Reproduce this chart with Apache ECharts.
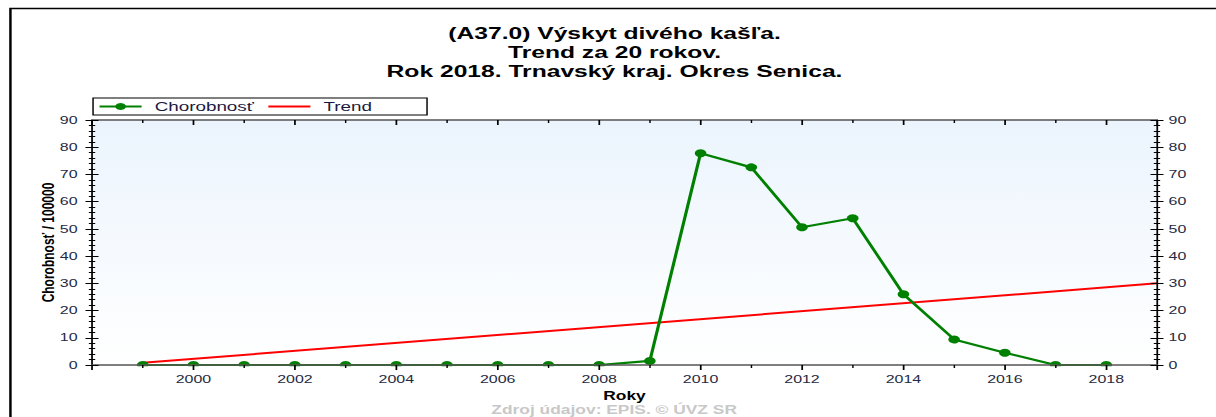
<!DOCTYPE html>
<html>
<head>
<meta charset="utf-8">
<script src="https://cdn.jsdelivr.net/npm/echarts@6/dist/echarts.min.js"></script>
<style>
  html, body { margin: 0; padding: 0; background: #fff; overflow: hidden; }
  /* the source picture is stretched sideways, so draw narrow and stretch */
  #chart { width: 839px; height: 417px; transform: scaleX(1.4493); transform-origin: 0 0; }
</style>
</head>
<body>
<div id="chart"></div>
<script>
// data
const years = [1999, 2000, 2001, 2002, 2003, 2004, 2005, 2006, 2007, 2008, 2009, 2010, 2011, 2012, 2013, 2014, 2015, 2016, 2017, 2018]
const chorobnost = [0, 0, 0, 0, 0, 0, 0, 0, 0, 0, 1.5, 77.8, 72.6, 50.6, 53.9, 26, 9.4, 4.5, 0, 0]
const trendYears = [1999, 2019]
const trendValues = [0.8, 30]
const titleLines = ['(A37.0) Výskyt divého kašľa.', 'Trend za 20 rokov.', 'Rok 2018. Trnavský kraj. Okres Senica.']

const font = '"Liberation Sans", Arial, sans-serif'
const labelColor = '#1f2a44'

const chart = echarts.init(document.getElementById('chart'), null, { renderer: 'svg' })

// y axes: one copy per side for outside ticks, one for inside ticks (gives the "+" look)
const yBase = { type: 'value', min: 0, max: 90, interval: 10, z: 5, splitLine: { show: false } }
const tickOut = { show: true, inside: false, length: 4.5, lineStyle: { color: '#000' } }
const tickIn = { show: true, inside: true, length: 4.5, lineStyle: { color: '#000' } }
const minor = { show: true, splitNumber: 5, length: 2.2, lineStyle: { color: '#000' } }
const yAxes = [
  Object.assign({}, yBase, {
    position: 'left',
    name: 'Chorobnosť / 100000', nameLocation: 'middle', nameRotate: 90, nameGap: 25,
    nameMoveOverlap: false,
    nameTextStyle: { fontFamily: '"Liberation Sans Narrow", ' + font, fontWeight: 'bold', fontSize: 12, color: '#000' },
    axisLine: { show: true, lineStyle: { color: '#000', width: 1.2 } },
    axisTick: tickOut, minorTick: minor,
    axisLabel: { margin: 10, fontFamily: font, fontSize: 11, color: labelColor }
  }),
  Object.assign({}, yBase, {
    position: 'left',
    axisLine: { show: false }, axisTick: tickIn, minorTick: minor, axisLabel: { show: false }
  }),
  Object.assign({}, yBase, {
    position: 'right',
    axisLine: { show: true, lineStyle: { color: '#000', width: 1.2 } },
    axisTick: tickOut, minorTick: minor,
    axisLabel: { margin: 8, fontFamily: font, fontSize: 11, color: labelColor }
  }),
  Object.assign({}, yBase, {
    position: 'right',
    axisLine: { show: false }, axisTick: tickIn, minorTick: minor, axisLabel: { show: false }
  })
]

const xBase = { type: 'value', min: 1998, max: 2019, interval: 2, z: 5, splitLine: { show: false } }

chart.setOption({
  backgroundColor: '#fff',
  animation: false,
  title: {
    text: titleLines.join('\n'),
    left: 419, top: 18, textAlign: 'center',
    textStyle: { fontFamily: font, fontSize: 17, fontWeight: 'bold', color: '#000', lineHeight: 19 }
  },
  legend: {
    left: 64.2, top: 98,
    padding: [2, 38, 2, 3.5],
    itemGap: 9, itemWidth: 29, itemHeight: 9,
    borderColor: '#000', borderWidth: 1,
    textStyle: { fontFamily: font, fontSize: 13, color: '#1a1a40', padding: [0, 0, 0, 4] },
    data: [
      { name: 'Chorobnosť' },
      { name: 'Trend', itemStyle: { opacity: 0 } }
    ]
  },
  grid: {
    left: 63.5, right: 40.7, top: 120, bottom: 52,
    show: true, borderWidth: 0,
    backgroundColor: new echarts.graphic.LinearGradient(0, 0, 0, 1, [
      { offset: 0, color: '#ebf4fd' },
      { offset: 1, color: '#ffffff' }
    ])
  },
  xAxis: [
    Object.assign({}, xBase, {
      position: 'bottom',
      name: 'Roky', nameLocation: 'middle', nameGap: 22,
      nameTextStyle: { fontFamily: font, fontWeight: 'bold', fontSize: 12, color: '#000' },
      axisLine: { show: true, onZero: false, lineStyle: { color: '#555', width: 1.5 } },
      axisTick: { show: true, inside: false, length: 5, lineStyle: { color: '#000', width: 1.2 } },
      minorTick: { show: true, splitNumber: 2, length: 3, lineStyle: { color: '#000' } },
      axisLabel: {
        margin: 9, fontFamily: font, fontSize: 11, color: labelColor,
        formatter: v => (v > 1998 && v < 2019 && v % 2 === 0) ? String(v) : ''
      }
    }),
    Object.assign({}, xBase, {
      position: 'top',
      axisLine: { show: true, onZero: false, lineStyle: { color: '#555', width: 1.5 } },
      axisTick: { show: true, inside: true, length: 5, lineStyle: { color: '#000', width: 1.2 } },
      minorTick: { show: true, splitNumber: 2, length: 3, lineStyle: { color: '#000' } },
      axisLabel: { show: false }
    })
  ],
  yAxis: yAxes,
  graphic: [
    {
      type: 'polyline', silent: true,
      shape: { points: [[7.2, 417], [7.2, 8.5], [839, 8.5]] },
      style: { stroke: '#000', lineWidth: 1.7, fill: null }
    },
    {
      // white strip under the plot: hides the lower half of markers sitting on 0
      type: 'rect', silent: true, z: 4,
      shape: { x: 64.5, y: 366.3, width: 733, height: 7 },
      style: { fill: '#fff' }
    },
    {
      type: 'text', left: 339, top: 404, silent: true,
      style: { text: 'Zdroj údajov: EPIS. © ÚVZ SR', fill: '#c8c8c8', font: 'bold 12px "Liberation Sans", Arial, sans-serif' }
    }
  ],
  series: [
    {
      name: 'Trend', type: 'line', xAxisIndex: 0, yAxisIndex: 0,
      data: trendYears.map((y, i) => [y, trendValues[i]]),
      symbol: 'none', itemStyle: { color: '#ff0000' }, lineStyle: { color: '#ff0000', width: 2 }, z: 2
    },
    {
      name: 'Chorobnosť', type: 'line', xAxisIndex: 0, yAxisIndex: 0,
      data: years.map((y, i) => [y, chorobnost[i]]),
      symbol: 'circle', symbolSize: 8,
      itemStyle: { color: '#008000' }, lineStyle: { color: '#008000', width: 2.2 }, z: 3
    }
  ]
})
</script>
</body>
</html>
